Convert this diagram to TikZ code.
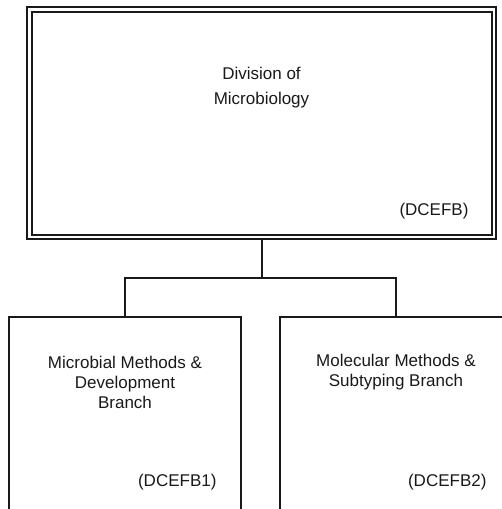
\documentclass[tikz,border=0pt]{standalone}
\usepackage{fontspec}
\setmainfont{Liberation Sans}
\usetikzlibrary{positioning}

\begin{document}
\begin{tikzpicture}[
    x=1pt, y=1pt,
    division/.style={draw=black!90, line width=2pt, double=white, double distance=2.5pt,
                     minimum width=464.5pt, minimum height=227.5pt, inner sep=0pt},
    branch/.style={draw=black!90, line width=2pt, minimum width=232pt, minimum height=193pt, inner sep=0pt},
    title/.style={align=center, font=\fontsize{17}{25}\selectfont, text=black!90},
    label/.style={align=center, font=\fontsize{17}{20}\selectfont, text=black!90},
    code/.style={anchor=east, font=\fontsize{17}{20}\selectfont, text=black!90},
    link/.style={draw=black!90, line width=2pt}
  ]

  % Rahmen des Bildes
  \useasboundingbox (0,0) rectangle (502,-509);
  \clip (0,0) rectangle (502,-509);

  % Division oben
  \node[division] (div) at (261.5,-123) {};
  \node[title]    (divtxt) at (261.5,-88) {Division of\\Microbiology};
  \node[code]     (divcode) at (472,-211) {(DCEFB)};

  % Branches unten
  \node[branch] (br1) at (125,-413.5) {};
  \node[label]  (br1txt) at (125,-382) {Microbial Methods \&\\Development\\Branch};
  \node[code]   (br1code) at (220,-482) {(DCEFB1)};

  \node[branch] (br2) at (396,-413.5) {};
  \node[label]  (br2txt) at (396,-372) {Molecular Methods \&\\Subtyping Branch};
  \node[code]   (br2code) at (490,-482) {(DCEFB2)};

  % Verbindungen
  \coordinate (junc) at (261.5,-278);
  \draw[link] (div.south) -- (junc);
  \draw[link] (br1.north) |- (junc) -| (br2.north);

\end{tikzpicture}
\end{document}
